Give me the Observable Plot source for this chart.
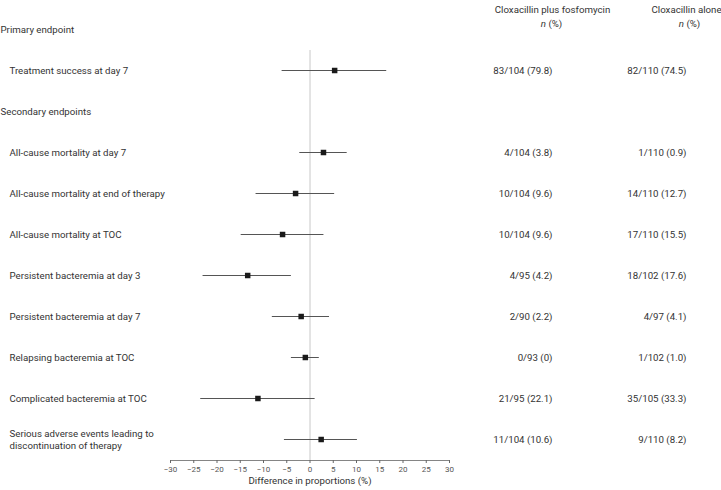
<!DOCTYPE html>
<html>
<head>
<meta charset="utf-8">
<script src="https://cdn.jsdelivr.net/npm/d3@7"></script>
<script src="https://cdn.jsdelivr.net/npm/@observablehq/plot@0.6"></script>
<style>
  html, body { margin: 0; padding: 0; background: #fff; }
</style>
</head>
<body>
<div id="chart"></div>
<script>
// Row labels (top to bottom)
const labels = [
  "Primary endpoint",
  "Treatment success at day 7",
  "Secondary endpoints",
  "All-cause mortality at day 7",
  "All-cause mortality at end of therapy",
  "All-cause mortality at TOC",
  "Persistent bacteremia at day 3",
  "Persistent bacteremia at day 7",
  "Relapsing bacteremia at TOC",
  "Complicated bacteremia at TOC",
  "Serious adverse events leading to\ndiscontinuation of therapy"
];
const isSection = [true, false, true, false, false, false, false, false, false, false, false];
// Difference in proportions (%) and 95% CI
const estimate = [null, 5.3, null, 2.9, -3.1, -5.9, -13.4, -1.9, -1.0, -11.2, 2.4];
const lower    = [null, -6.0, null, -2.2, -11.6, -14.8, -23.0, -8.1, -4.0, -23.5, -5.5];
const upper    = [null, 16.5, null, 8.0, 5.3, 3.0, -4.0, 4.2, 2.0, 1.1, 10.2];
// n (%) columns
const combo = ["", "83/104 (79.8)", "", "4/104 (3.8)", "10/104 (9.6)", "10/104 (9.6)", "4/95 (4.2)", "2/90 (2.2)", "0/93 (0)", "21/95 (22.1)", "11/104 (10.6)"];
const alone = ["", "82/110 (74.5)", "", "1/110 (0.9)", "14/110 (12.7)", "17/110 (15.5)", "18/102 (17.6)", "4/97 (4.1)", "1/102 (1.0)", "35/105 (33.3)", "9/110 (8.2)"];
const xTicks = [-30, -25, -20, -15, -10, -5, 0, 5, 10, 15, 20, 25, 30];
const headers = ["Cloxacillin plus fosfomycin", "Cloxacillin alone"];
const subHeader = "n (%)";
const axisTitle = "Difference in proportions (%)";

const rows = labels.map((label, i) => ({
  label, section: isSection[i], est: estimate[i], lo: lower[i], hi: upper[i],
  combo: combo[i], alone: alone[i]
}));
const items = rows.filter(d => d.est !== null);
const textColor = "#333";

const chart = Plot.plot({
  width: 721,
  height: 490,
  marginLeft: 170,
  marginRight: 272,
  marginTop: 50,
  marginBottom: 30,
  style: { fontFamily: "Roboto, sans-serif", fontSize: "9.7px", color: textColor, background: "#fff" },
  x: { domain: [-30, 30] },
  y: { type: "point", domain: labels, range: [29, 439], padding: 0, axis: null },
  marks: [
    Plot.ruleX([0], { stroke: "#c8c8c8", strokeWidth: 1 }),
    Plot.frame({ anchor: "bottom", stroke: "#666", strokeWidth: 0.8 }),
    Plot.axisX({
      ticks: xTicks, tickSize: 3, tickPadding: 3, stroke: "#666",
      fontSize: 8, fill: "#555", label: null
    }),
    Plot.text([axisTitle], { frameAnchor: "bottom", dy: 23, fill: textColor, fontSize: 9.7 }),
    Plot.ruleY(items, { y: "label", x1: "lo", x2: "hi", stroke: "#555", strokeWidth: 1 }),
    Plot.dot(items, { y: "label", x: "est", symbol: "square", r: 3.1, fill: "#1a1a1a", stroke: "none" }),
    // row labels
    Plot.text(rows, {
      y: "label", text: "label", frameAnchor: "left", textAnchor: "start",
      fill: textColor, lineHeight: 1.25,
      filter: d => d.section, dx: -170
    }),
    Plot.text(rows, {
      y: "label", text: "label", frameAnchor: "left", textAnchor: "start",
      fill: textColor, lineHeight: 1.25,
      filter: d => !d.section, dx: -161
    }),
    // columns
    Plot.text(items, { y: "label", text: "combo", frameAnchor: "right", dx: 103, fill: textColor }),
    Plot.text(items, { y: "label", text: "alone", frameAnchor: "right", dx: 237, fill: textColor }),
    Plot.text([headers[0]], { frameAnchor: "top-right", dx: 103, dy: -44, fill: textColor, textAnchor: "middle" }),
    Plot.text([headers[1]], { frameAnchor: "top-right", dx: 237, dy: -44, fill: textColor, textAnchor: "middle" }),
    Plot.text([subHeader], { frameAnchor: "top-right", dx: 102, dy: -30, fill: textColor, textAnchor: "middle" }),
    Plot.text([subHeader], { frameAnchor: "top-right", dx: 240, dy: -30, fill: textColor, textAnchor: "middle" })
  ]
});

// italicise the "n" in "n (%)"
d3.select(chart).selectAll("text").each(function () {
  if (this.textContent === subHeader) {
    this.textContent = "";
    d3.select(this).append("tspan").attr("font-style", "italic").text("n");
    d3.select(this).append("tspan").text(" (%)");
  }
});

document.getElementById("chart").appendChild(chart);
</script>
</body>
</html>
